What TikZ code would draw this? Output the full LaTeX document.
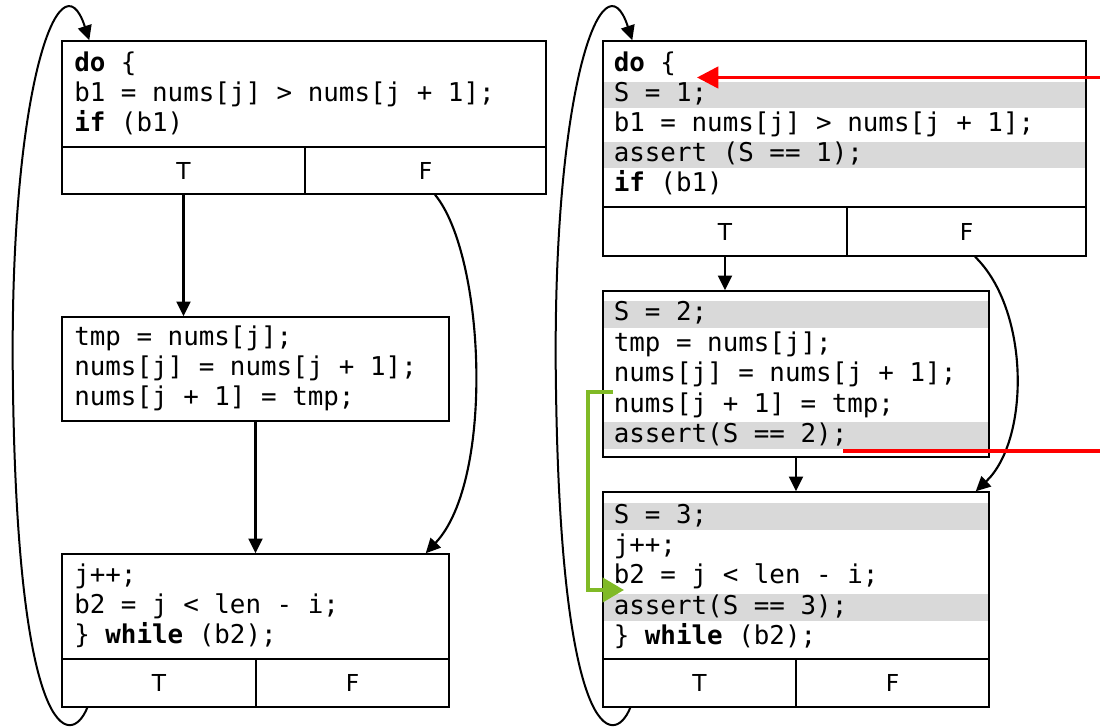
\documentclass[tikz,border=0pt]{standalone}
\usepackage{fontspec}
\setmainfont{DejaVu Sans}
\setmonofont{DejaVu Sans Mono}
\usetikzlibrary{arrows.meta,fit,calc}
\definecolor{bandgray}{RGB}{217,217,217}
\definecolor{grn}{RGB}{128,186,38}
\definecolor{rd}{RGB}{255,0,0}
\begin{document}
\begin{tikzpicture}[x=0.75pt,y=-0.75pt,
  box/.style={draw=black, line width=1.1pt, inner sep=0pt},
  tflabel/.style={inner sep=0pt, anchor=center, font=\fontsize{17.5}{20}\selectfont},
  band/.style={fill=bandgray, draw=none, inner sep=0pt},
  code/.style={anchor=base west, inner sep=0pt, font=\ttfamily\fontsize{19.4}{22}\selectfont},
  arr/.style={line width=1.6pt, -{Triangle[length=11pt,width=10.5pt]}},
  backedge/.style={line width=1.5pt, -{Triangle[length=11pt,width=10.5pt]}},
  redarr/.style={rd, line width=2.7pt, -{Triangle[length=16pt,width=16pt]}},
  redline/.style={rd, line width=2.7pt},
  grnarr/.style={grn, line width=3pt, -{Triangle[length=16pt,width=18pt]}}
]
\useasboundingbox (0,0) rectangle (1100,727);

% ---------- gray bands (right panel) ----------
\node[band, fit={(603,81.7) (1086,108.3)}] (R1band1) {};
\node[band, fit={(603,141.7) (1086,168.3)}] (R1band2) {};
\node[band, fit={(603,301) (989,328)}] (R2band1) {};
\node[band, fit={(603,421.5) (989,448.5)}] (R2band2) {};
\node[band, fit={(603,502.5) (989,529.5)}] (R3band1) {};
\node[band, fit={(603,593.5) (989,620.5)}] (R3band2) {};

% ---------- left panel boxes ----------
\node[box, fit={(62,41) (546,147)}] (L1) {};
\node[box, fit={(62,147) (305,194)}] (L1T) {};
\node[box, fit={(305,147) (546,194)}] (L1F) {};
\node[box, fit={(62,317) (449,421)}] (L2) {};
\node[box, fit={(62,554) (449,659)}] (L3) {};
\node[box, fit={(62,659) (256,707)}] (L3T) {};
\node[box, fit={(256,659) (449,707)}] (L3F) {};

% ---------- right panel boxes ----------
\node[box, fit={(603,41) (1086,207)}] (R1) {};
\node[box, fit={(603,207) (847,256)}] (R1T) {};
\node[box, fit={(847,207) (1086,256)}] (R1F) {};
\node[box, fit={(603,291) (989,457)}] (R2) {};
\node[box, fit={(603,492) (989,659)}] (R3) {};
\node[box, fit={(603,659) (796,707)}] (R3T) {};
\node[box, fit={(796,659) (989,707)}] (R3F) {};

% ---------- T / F labels ----------
\node[tflabel] (L1Tlab) at (L1T.center) {T};
\node[tflabel] (L1Flab) at (L1F.center) {F};
\node[tflabel] (L3Tlab) at (L3T.center) {T};
\node[tflabel] (L3Flab) at (L3F.center) {F};
\node[tflabel] (R1Tlab) at (R1T.center) {T};
\node[tflabel] (R1Flab) at (R1F.center) {F};
\node[tflabel] (R3Tlab) at (R3T.center) {T};
\node[tflabel] (R3Flab) at (R3F.center) {F};

% ---------- left panel code ----------
\node[code] (L1a) at (74,71.7) {\textbf{do} \{};
\node[code] (L1b) at (74,101.7) {b1 = nums[j] > nums[j + 1];};
\node[code] (L1c) at (74,131.7) {\textbf{if} (b1)};
\node[code] (L2a) at (74,346) {tmp = nums[j];};
\node[code] (L2b) at (74,376) {nums[j] = nums[j + 1];};
\node[code] (L2c) at (74,406) {nums[j + 1] = tmp;};
\node[code] (L3a) at (74,583) {j++;};
\node[code] (L3b) at (74,613) {b2 = j < len - i;};
\node[code] (L3c) at (74,643) {\} \textbf{while} (b2);};

% ---------- right panel code ----------
\node[code] (R1a) at (613.5,71.7) {\textbf{do} \{};
\node[code] (R1b) at (613.5,101.7) {S = 1;};
\node[code] (R1c) at (613.5,131.7) {b1 = nums[j] > nums[j + 1];};
\node[code] (R1d) at (613.5,161.7) {assert (S == 1);};
\node[code] (R1e) at (613.5,191.7) {\textbf{if} (b1)};
\node[code] (R2a) at (613.5,321) {S = 2;};
\node[code] (R2b) at (613.5,351.3) {tmp = nums[j];};
\node[code] (R2c) at (613.5,381.6) {nums[j] = nums[j + 1];};
\node[code] (R2d) at (613.5,412) {nums[j + 1] = tmp;};
\node[code] (R2e) at (613.5,442.2) {assert(S == 2);};
\node[code] (R3a) at (613.5,523) {S = 3;};
\node[code] (R3b) at (613.5,553) {j++;};
\node[code] (R3c) at (613.5,583.5) {b2 = j < len - i;};
\node[code] (R3d) at (613.5,614) {assert(S == 3);};
\node[code] (R3e) at (613.5,644) {\} \textbf{while} (b2);};

% ---------- left panel connectors ----------
\draw[arr] (L1T.south) -- (L1T.south |- L2.north);
\draw[arr] (L2.south) -- (L3.north);
\draw[arr] ($(L1F.south)+(9.5,0)$) .. controls (485,255) and (495,480) .. ($(L3.north east)+(-24,0)$);
\draw[backedge] ($(L3T.south west)+(26,0)$) .. controls (70,750) and (18,740) .. (13,390)
  .. controls (8,90) and (60,-50) .. ($(L1.north west)+(28,0)$);

% ---------- right panel connectors ----------
\draw[arr] (R1T.south) -- (R1T.south |- R2.north);
\draw[arr] (R2.south) -- (R3.north);
\draw[arr] ($(R1F.south)+(8.5,0)$) .. controls (1030,310) and (1030,440) .. ($(R3.north east)+(-14,0)$);
\draw[backedge] ($(R3T.south west)+(28,0)$) .. controls (613,750) and (561,740) .. (556,390)
  .. controls (551,90) and (603,-50) .. ($(R1.north west)+(30,0)$);

% ---------- red markers ----------
\coordinate (redstart) at (1100,77.5);
\coordinate (redtip) at (697,77.5);
\draw[redarr] (redstart) -- (redtip);
\coordinate (redA) at (843,451);
\coordinate (redB) at (1100,451);
\draw[redline] (redA) -- (redB);

% ---------- green jump ----------
\coordinate (grnA) at (613,392);
\coordinate (grnB) at (624,590);
\draw[grnarr] (grnA) -- (588,392) |- (grnB);
\end{tikzpicture}
\end{document}
